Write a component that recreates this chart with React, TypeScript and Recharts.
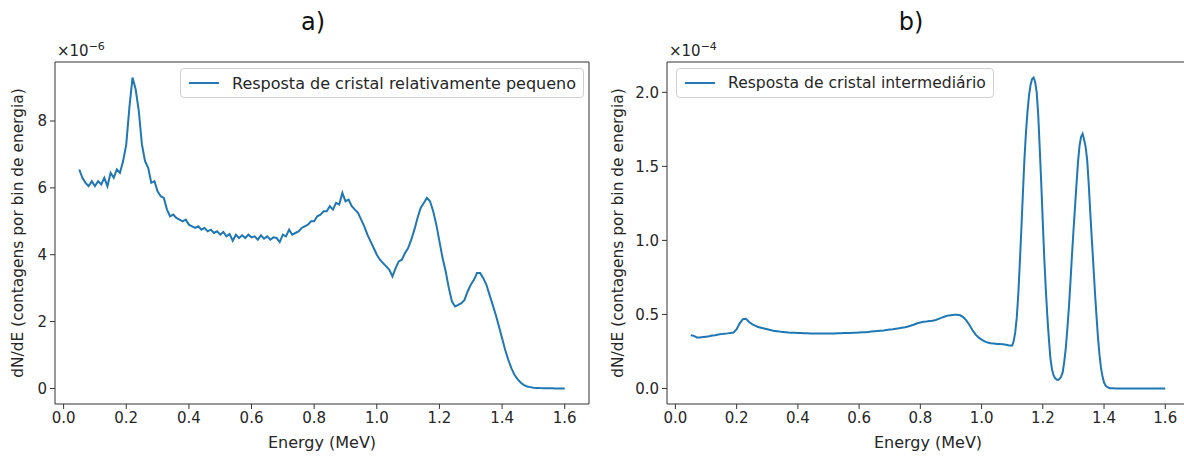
import React from 'react';
import { LineChart, Line, XAxis, YAxis, Legend, ReferenceLine } from 'recharts';

// Panel a) – energies (MeV) and counts (x1e-6)
const energyA = [
  0.05, 0.06, 0.07, 0.08, 0.09, 0.10, 0.11, 0.12, 0.13, 0.14,
  0.15, 0.16, 0.17, 0.18, 0.19, 0.20, 0.21, 0.22, 0.23, 0.24,
  0.25, 0.26, 0.27, 0.28, 0.29, 0.30, 0.31, 0.32, 0.33, 0.34,
  0.35, 0.36, 0.37, 0.38, 0.39, 0.40, 0.41, 0.42, 0.43, 0.44,
  0.45, 0.46, 0.47, 0.48, 0.49, 0.50, 0.51, 0.52, 0.53, 0.54,
  0.55, 0.56, 0.57, 0.58, 0.59, 0.60, 0.61, 0.62, 0.63, 0.64,
  0.65, 0.66, 0.67, 0.68, 0.69, 0.70, 0.71, 0.72, 0.73, 0.74,
  0.75, 0.76, 0.77, 0.78, 0.79, 0.80, 0.81, 0.82, 0.83, 0.84,
  0.85, 0.86, 0.87, 0.88, 0.89, 0.90, 0.91, 0.92, 0.93, 0.94,
  0.95, 0.96, 0.97, 0.98, 0.99, 1.00, 1.01, 1.02, 1.03, 1.04,
  1.05, 1.06, 1.07, 1.08, 1.09, 1.10, 1.11, 1.12, 1.13, 1.14,
  1.15, 1.16, 1.17, 1.18, 1.19, 1.20, 1.21, 1.22, 1.23, 1.24,
  1.25, 1.26, 1.27, 1.28, 1.29, 1.30, 1.31, 1.32, 1.33, 1.34,
  1.35, 1.36, 1.37, 1.38, 1.39, 1.40, 1.41, 1.42, 1.43, 1.44,
  1.45, 1.46, 1.47, 1.48, 1.49, 1.50, 1.51, 1.52, 1.53, 1.54,
  1.55, 1.56, 1.57, 1.58, 1.59, 1.60,
];
const countsA = [
  6.55, 6.3, 6.15, 6.05, 6.2, 6.05, 6.2, 6.1, 6.3, 6.05,
  6.45, 6.3, 6.55, 6.45, 6.8, 7.3, 8.4, 9.3, 8.95, 8.3,
  7.3, 6.8, 6.6, 6.15, 6.2, 5.9, 5.75, 5.7, 5.35, 5.15,
  5.2, 5.1, 5.05, 5.0, 5.05, 4.9, 4.85, 4.8, 4.85, 4.75,
  4.8, 4.7, 4.75, 4.65, 4.7, 4.6, 4.68, 4.55, 4.62, 4.42,
  4.6, 4.5, 4.58, 4.5, 4.6, 4.52, 4.55, 4.45, 4.58, 4.48,
  4.55, 4.45, 4.52, 4.5, 4.38, 4.6, 4.55, 4.75, 4.6, 4.65,
  4.7, 4.8, 4.85, 4.9, 5.0, 5.0, 5.15, 5.2, 5.3, 5.3,
  5.45, 5.35, 5.55, 5.5, 5.85, 5.6, 5.65, 5.45, 5.35, 5.25,
  5.05, 4.85, 4.6, 4.4, 4.2, 4.0, 3.85, 3.75, 3.65, 3.55,
  3.35, 3.6, 3.8, 3.85, 4.05, 4.2, 4.45, 4.75, 5.1, 5.4,
  5.55, 5.7, 5.6, 5.3, 4.9, 4.4, 3.9, 3.5, 3.0, 2.6,
  2.45, 2.5, 2.55, 2.65, 2.9, 3.1, 3.25, 3.45, 3.45, 3.3,
  3.1, 2.8, 2.5, 2.2, 1.85, 1.5, 1.15, 0.85, 0.6, 0.4,
  0.27, 0.17, 0.1, 0.06, 0.04, 0.02, 0.015, 0.01, 0.008, 0.005,
  0.004, 0.003, 0.002, 0.002, 0.001, 0.001,
];

// Panel b) – energies (MeV) and counts (x1e-4)
const energyB = [
  0.05, 0.06, 0.07, 0.08, 0.09, 0.10, 0.11, 0.12, 0.13, 0.14,
  0.15, 0.16, 0.17, 0.18, 0.19, 0.20, 0.21, 0.22, 0.23, 0.24,
  0.25, 0.26, 0.27, 0.28, 0.29, 0.30, 0.31, 0.32, 0.33, 0.34,
  0.35, 0.36, 0.37, 0.38, 0.39, 0.40, 0.41, 0.42, 0.43, 0.44,
  0.45, 0.46, 0.47, 0.48, 0.49, 0.50, 0.51, 0.52, 0.53, 0.54,
  0.55, 0.56, 0.57, 0.58, 0.59, 0.60, 0.61, 0.62, 0.63, 0.64,
  0.65, 0.66, 0.67, 0.68, 0.69, 0.70, 0.71, 0.72, 0.73, 0.74,
  0.75, 0.76, 0.77, 0.78, 0.79, 0.80, 0.81, 0.82, 0.83, 0.84,
  0.85, 0.86, 0.87, 0.88, 0.89, 0.90, 0.91, 0.92, 0.93, 0.94,
  0.95, 0.96, 0.97, 0.98, 0.99, 1.00, 1.01, 1.02, 1.03, 1.04,
  1.05, 1.06, 1.07, 1.08, 1.09, 1.10,
  1.105, 1.11, 1.115, 1.12, 1.125, 1.13, 1.135, 1.14, 1.145, 1.15,
  1.155, 1.16, 1.165, 1.17, 1.175, 1.18, 1.185, 1.19, 1.195, 1.20,
  1.205, 1.21, 1.215, 1.22, 1.225, 1.23, 1.235, 1.24, 1.245, 1.25,
  1.255, 1.26, 1.265, 1.27, 1.275, 1.28, 1.285, 1.29, 1.295, 1.30,
  1.305, 1.31, 1.315, 1.32, 1.325, 1.33, 1.335, 1.34, 1.345, 1.35,
  1.355, 1.36, 1.365, 1.37, 1.375, 1.38, 1.385, 1.39, 1.395, 1.40,
  1.405, 1.41, 1.415, 1.42,
  1.43, 1.44, 1.45, 1.46, 1.47, 1.48, 1.49, 1.50, 1.51, 1.52,
  1.53, 1.54, 1.55, 1.56, 1.57, 1.58, 1.59, 1.60,
];
const countsB = [
  0.36, 0.355, 0.345, 0.345, 0.348, 0.35, 0.352, 0.357, 0.36, 0.365,
  0.367, 0.37, 0.372, 0.375, 0.378, 0.40, 0.44, 0.468, 0.47, 0.45,
  0.435, 0.425, 0.415, 0.41, 0.405, 0.40, 0.395, 0.39, 0.387, 0.384,
  0.382, 0.38, 0.378, 0.377, 0.376, 0.375, 0.374, 0.373, 0.373, 0.372,
  0.372, 0.372, 0.371, 0.371, 0.371, 0.371, 0.372, 0.372, 0.373, 0.373,
  0.374, 0.374, 0.375, 0.376, 0.377, 0.378, 0.379, 0.38, 0.382, 0.384,
  0.386, 0.388, 0.39, 0.392, 0.395, 0.398, 0.40, 0.403, 0.406, 0.41,
  0.413, 0.418, 0.425, 0.432, 0.44, 0.446, 0.45, 0.452, 0.455, 0.458,
  0.462, 0.47, 0.478, 0.486, 0.492, 0.495, 0.498, 0.498, 0.494, 0.482,
  0.46, 0.43, 0.395, 0.365, 0.345, 0.33, 0.318, 0.31, 0.306, 0.303,
  0.30, 0.30, 0.298, 0.295, 0.29, 0.29,
  0.32, 0.38, 0.48, 0.64, 0.85, 1.08, 1.32, 1.55, 1.73, 1.87,
  1.98, 2.05, 2.09, 2.10, 2.07, 2.0, 1.85, 1.62, 1.38, 1.12,
  0.87, 0.66, 0.48, 0.33, 0.2, 0.13, 0.09, 0.07, 0.06, 0.058,
  0.065, 0.08, 0.11, 0.18, 0.27, 0.40, 0.54, 0.71, 0.89, 1.06,
  1.22, 1.38, 1.53, 1.64, 1.70, 1.72, 1.68, 1.63, 1.54, 1.38,
  1.19, 1.01, 0.84, 0.66, 0.50, 0.35, 0.23, 0.14, 0.08, 0.04,
  0.02, 0.01, 0.005, 0.002,
  0.001, 0, 0, 0, 0, 0, 0, 0, 0, 0,
  0, 0, 0, 0, 0, 0, 0, 0,
];

const xTicks = [0, 0.2, 0.4, 0.6, 0.8, 1.0, 1.2, 1.4, 1.6];
const yTicksA = [0, 2, 4, 6, 8];
const yTicksB = [0, 0.5, 1.0, 1.5, 2.0];

const dataA = energyA.map((e, i) => ({ e, v: countsA[i] }));
const dataB = energyB.map((e, i) => ({ e, v: countsB[i] }));

const FONT = '"DejaVu Sans", sans-serif';
const AXIS = '#333333';
const BLUE = '#1f77b4';
const X_DOMAIN = [-0.0275, 1.6775];
const tickStyle = { fill: '#262626', fontSize: 15, fontFamily: FONT };

const makeLegend = (label: string, fontSize: number) => () => (
  <div
    style={{
      display: 'flex',
      alignItems: 'center',
      border: '1px solid #d0d0d0',
      borderRadius: 4,
      background: 'rgba(255,255,255,0.85)',
      height: 28,
      padding: '0 7px 0 8px',
      fontFamily: FONT,
      fontSize,
      color: '#262626',
      whiteSpace: 'nowrap',
    }}
  >
    <svg width={30} height={4} style={{ marginRight: 13 }}>
      <line x1={0} y1={2} x2={30} y2={2} stroke={BLUE} strokeWidth={2} />
    </svg>
    <span>{label}</span>
  </div>
);

const yLabelStyle = (x: number): React.CSSProperties => ({
  position: 'absolute',
  left: x,
  top: 233,
  transform: 'translate(-50%, -50%) rotate(-90deg)',
  whiteSpace: 'nowrap',
  fontFamily: FONT,
  fontSize: 15.4,
  color: '#262626',
});

const titleStyle = (x: number): React.CSSProperties => ({
  position: 'absolute',
  left: x,
  top: 22,
  transform: 'translate(-50%, -50%)',
  fontFamily: FONT,
  fontSize: 24,
  color: '#111',
});

const offsetStyle = (x: number): React.CSSProperties => ({
  position: 'absolute',
  left: x,
  top: 40,
  fontFamily: FONT,
  fontSize: 15,
  color: '#262626',
  whiteSpace: 'nowrap',
});

const Panel = ({
  data,
  yDomain,
  yTicks,
  yFmt,
  yAxisWidth,
  marginLeft,
  marginRight,
  legendLabel,
  legendLeft,
  legendFont,
  width,
}: any) => (
  <LineChart
    width={width}
    height={456}
    data={data}
    margin={{ top: 62, right: marginRight, bottom: 2, left: marginLeft }}
    style={{ fontFamily: FONT }}
  >
    <XAxis
      dataKey="e"
      type="number"
      domain={X_DOMAIN}
      allowDataOverflow
      ticks={xTicks}
      tickFormatter={(v: number) => v.toFixed(1)}
      tick={tickStyle}
      tickSize={5}
      tickMargin={3}
      height={50}
      stroke={AXIS}
      label={{ value: 'Energy (MeV)', position: 'insideBottom', offset: 6, fill: '#262626', fontSize: 16, fontFamily: FONT }}
    />
    <YAxis
      type="number"
      domain={yDomain}
      allowDataOverflow
      ticks={yTicks}
      tickFormatter={yFmt}
      tick={tickStyle}
      tickSize={5}
      tickMargin={3}
      width={yAxisWidth}
      stroke={AXIS}
    />
    <ReferenceLine y={yDomain[1]} stroke={AXIS} strokeWidth={1} />
    <ReferenceLine x={X_DOMAIN[1]} stroke={AXIS} strokeWidth={1} />
    <Legend
      layout="horizontal"
      verticalAlign="middle"
      align="center"
      content={makeLegend(legendLabel, legendFont)}
      wrapperStyle={{ position: 'absolute', top: 68, left: legendLeft, width: 'auto' }}
    />
    <Line
      type="linear"
      dataKey="v"
      stroke={BLUE}
      strokeWidth={2}
      dot={false}
      isAnimationActive={false}
      legendType="line"
    />
  </LineChart>
);

export default function App() {
  return (
    <div style={{ position: 'absolute', left: 0, top: 0, width: 1184, height: 456, overflow: 'hidden', background: '#fff' }}>
      <div style={{ position: 'absolute', left: 0, top: 0 }}>
        <Panel
          width={600}
          data={dataA}
          yDomain={[-0.465, 9.765]}
          yTicks={yTicksA}
          yFmt={(v: number) => String(v)}
          yAxisWidth={45}
          marginLeft={10}
          marginRight={11}
          legendLabel="Resposta de cristal relativamente pequeno"
          legendLeft={180}
          legendFont={16}
        />
      </div>
      <div style={{ position: 'absolute', left: 600, top: 0 }}>
        <Panel
          width={600}
          data={dataB}
          yDomain={[-0.105, 2.205]}
          yTicks={yTicksB}
          yFmt={(v: number) => v.toFixed(1)}
          yAxisWidth={55}
          marginLeft={12}
          marginRight={11}
          legendLabel="Resposta de cristal intermediário"
          legendLeft={76}
          legendFont={15.6}
        />
      </div>
      <div style={titleStyle(313)}>a)</div>
      <div style={titleStyle(911)}>b)</div>
      <div style={offsetStyle(57)}>
        ×10<sup style={{ fontSize: 11 }}>−6</sup>
      </div>
      <div style={offsetStyle(669)}>
        ×10<sup style={{ fontSize: 11 }}>−4</sup>
      </div>
      <div style={yLabelStyle(18)}>dN/dE (contagens por bin de energia)</div>
      <div style={yLabelStyle(618)}>dN/dE (contagens por bin de energia)</div>
    </div>
  );
}
